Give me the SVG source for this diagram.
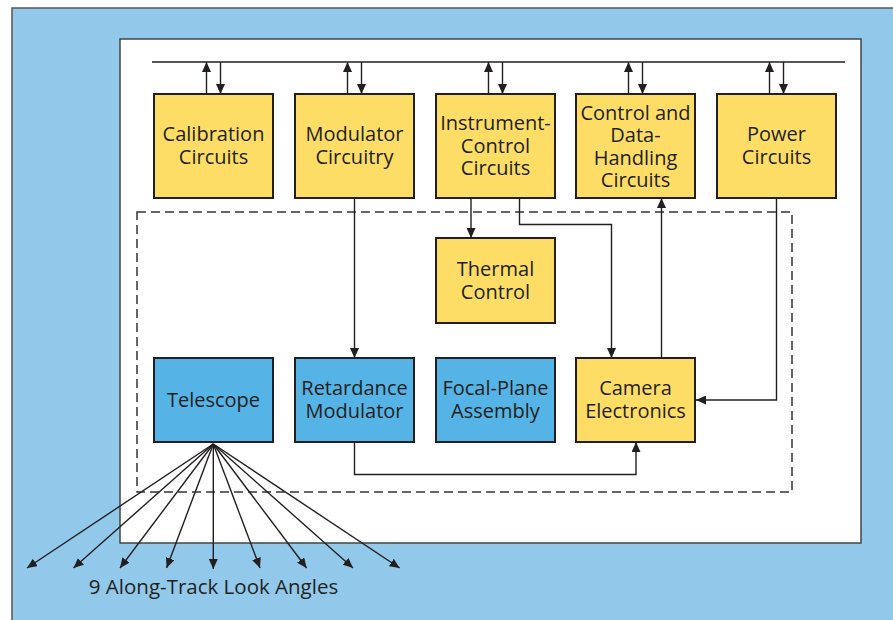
<svg xmlns="http://www.w3.org/2000/svg" width="893" height="620" viewBox="0 0 893 620">
<defs>
<marker id="ah" markerUnits="userSpaceOnUse" markerWidth="11" markerHeight="9" refX="10" refY="4.5" orient="auto" viewBox="0 0 11 9">
<path d="M0,0 L10,4.5 L0,9 z" fill="#231f20"/>
</marker>
<style>
.y{fill:#fedd67;stroke:#231f20;stroke-width:2}
.b{fill:#55b3e5;stroke:#231f20;stroke-width:2}
.t{font-family:"Open Sans","Noto Sans",sans-serif;font-size:20px;fill:#231f20;text-anchor:middle}
.c{fill:none;stroke:#231f20;stroke-width:1.4}
.a{marker-end:url(#ah)}
</style>
</defs>
<rect x="12" y="8" width="895" height="620" fill="#92c9eb" stroke="#555" stroke-width="1.5"/>
<rect x="120" y="39" width="741" height="504" fill="#fff" stroke="#444" stroke-width="1.5"/>
<rect x="137" y="212" width="655" height="280" fill="none" stroke="#333" stroke-width="1.5" stroke-dasharray="9,5"/>

<g id="calibration"><rect class="y" x="154" y="94" width="119" height="104"/><text class="t"><tspan x="213.5" y="141">Calibration</tspan><tspan x="213.5" y="163.5">Circuits</tspan></text></g>
<g id="modulator"><rect class="y" x="295" y="94" width="119" height="104"/><text class="t"><tspan x="354.5" y="141">Modulator</tspan><tspan x="354.5" y="163.5">Circuitry</tspan></text></g>
<g id="instrument"><rect class="y" x="436" y="94" width="119" height="104"/><text class="t"><tspan x="495.5" y="130">Instrument-</tspan><tspan x="495.5" y="152.5">Control</tspan><tspan x="495.5" y="175">Circuits</tspan></text></g>
<g id="cdh"><rect class="y" x="576" y="94" width="119" height="104"/><text class="t"><tspan x="635.5" y="119.5">Control and</tspan><tspan x="635.5" y="142">Data-</tspan><tspan x="635.5" y="164.7">Handling</tspan><tspan x="635.5" y="187.3">Circuits</tspan></text></g>
<g id="power"><rect class="y" x="717" y="94" width="119" height="104"/><text class="t"><tspan x="776.5" y="141">Power</tspan><tspan x="776.5" y="163.5">Circuits</tspan></text></g>
<g id="thermal"><rect class="y" x="436" y="238" width="119" height="85"/><text class="t"><tspan x="495.5" y="276">Thermal</tspan><tspan x="495.5" y="298.5">Control</tspan></text></g>
<g id="telescope"><rect class="b" x="154" y="358" width="119" height="84"/><text class="t" x="213.5" y="407">Telescope</text></g>
<g id="retardance"><rect class="b" x="295" y="358" width="119" height="84"/><text class="t"><tspan x="354.5" y="395">Retardance</tspan><tspan x="354.5" y="418">Modulator</tspan></text></g>
<g id="focalplane"><rect class="b" x="436" y="358" width="119" height="84"/><text class="t"><tspan x="495.5" y="395">Focal-Plane</tspan><tspan x="495.5" y="418">Assembly</tspan></text></g>
<g id="camera"><rect class="y" x="576" y="358" width="119" height="84"/><text class="t"><tspan x="635.5" y="395">Camera</tspan><tspan x="635.5" y="418">Electronics</tspan></text></g>

<g id="connectors">
<path class="c" d="M152,62 H845"/>
<path class="c a" d="M206.5,94 V62"/><path class="c a" d="M220.5,62 V94"/>
<path class="c a" d="M347.5,94 V62"/><path class="c a" d="M361.5,62 V94"/>
<path class="c a" d="M488.5,94 V62"/><path class="c a" d="M502.5,62 V94"/>
<path class="c a" d="M628.5,94 V62"/><path class="c a" d="M642.5,62 V94"/>
<path class="c a" d="M769.5,94 V62"/><path class="c a" d="M783.5,62 V94"/>
<path class="c a" d="M354.5,198 V358"/>
<path class="c a" d="M471,198 V238"/>
<path class="c a" d="M519.5,198 V224.5 H611.5 V358"/>
<path class="c a" d="M661.5,358 V198"/>
<path class="c a" d="M776.5,198 V400 H696"/>
<path class="c a" d="M354.5,442 V474.5 H636 V442"/>
<path class="c a" d="M213.3,444 L27,568"/>
<path class="c a" d="M213.3,444 L73.5,568"/>
<path class="c a" d="M213.3,444 L120,568"/>
<path class="c a" d="M213.3,444 L166.6,568"/>
<path class="c a" d="M213.3,444 L213.3,569"/>
<path class="c a" d="M213.3,444 L260,568"/>
<path class="c a" d="M213.3,444 L306.6,568"/>
<path class="c a" d="M213.3,444 L353,568"/>
<path class="c a" d="M213.3,444 L399.6,568"/>
</g>
<text class="t" x="213.5" y="594" style="font-size:20.5px">9 Along-Track Look Angles</text>
</svg>
